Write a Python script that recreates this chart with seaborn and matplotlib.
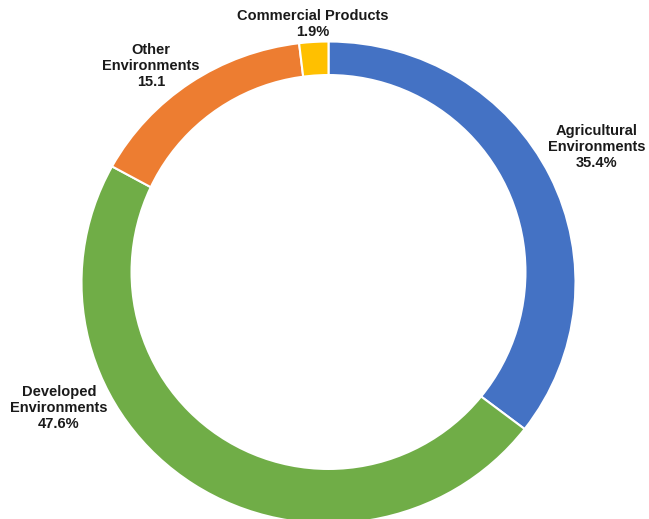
import matplotlib
matplotlib.use("Agg")
import matplotlib.pyplot as plt
from matplotlib.patches import Ellipse
import seaborn as sns

categories = ["Agricultural\nEnvironments", "Developed\nEnvironments",
              "Other\nEnvironments", "Commercial Products"]
values = [35.4, 47.6, 15.1, 1.9]
value_labels = ["35.4%", "47.6%", "15.1", "1.9%"]
colors = ["#4472C4", "#70AD47", "#ED7D31", "#FFC000"]

sns.set_theme(style="white")
plt.rcParams['font.family'] = ['Liberation Sans', 'DejaVu Sans']

W, H = 649, 519
fig = plt.figure(figsize=(W / 100, H / 100), dpi=100)
cx, cy = 328.5, 282.5
rx, ry = 247, 241
ax = fig.add_axes([(cx - rx) / W, (H - cy - ry) / H, 2 * rx / W, 2 * ry / H])

pal = sns.color_palette(colors)
wedges, _ = ax.pie(values, colors=pal, startangle=90, counterclock=False,
                   radius=1.0, wedgeprops=dict(edgecolor="white", linewidth=1.5))
ax.set_aspect("auto")
ax.set_xlim(-1, 1)
ax.set_ylim(-1, 1)
ax.axis("off")

# donut hole (slightly offset upward, as in the reference)
hole_r = 198
hole_cy = 272
ax.add_patch(Ellipse((0, (cy - hole_cy) / ry), 2 * hole_r / rx, 2 * hole_r / ry,
                     facecolor="white", edgecolor="none", zorder=5))

# label positions in pixel coords (center of text block)
label_px = [(597, 147), (59, 408), (151, 66), (313, 24)]
for cat, vl, (px, py) in zip(categories, value_labels, label_px):
    fig.text(px / W, 1 - py / H, f"{cat}\n{vl}", ha="center", va="center",
             fontsize=10.5, fontweight="bold", color="#1a1a1a", linespacing=1.15)

fig.savefig("out.png", dpi=100, facecolor="white")
